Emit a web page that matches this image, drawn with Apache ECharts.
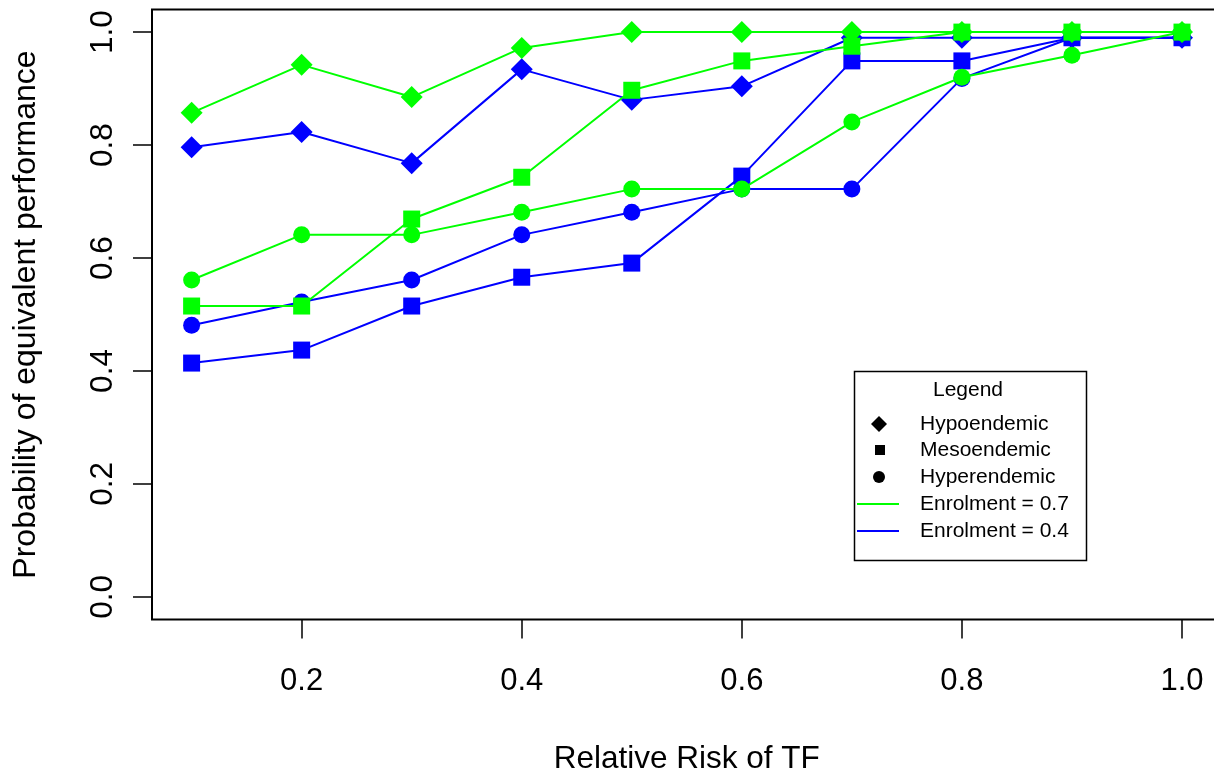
<!DOCTYPE html>
<html>
<head>
<meta charset="utf-8">
<script src="https://cdn.jsdelivr.net/npm/echarts@6/dist/echarts.min.js"></script>
<style>html,body{margin:0;padding:0;background:#fff}#c{width:1214px;height:773px}</style>
</head>
<body>
<div id="c"></div>
<script>
var relativeRisk = [0.1, 0.2, 0.3, 0.4, 0.5, 0.6, 0.7, 0.8, 0.9, 1.0];
var xTicks = [0.2, 0.4, 0.6, 0.8, 1.0];
var yTicks = [0.0, 0.2, 0.4, 0.6, 0.8, 1.0];

var hypo07  = [0.857, 0.942, 0.885, 0.972, 1.0, 1.0, 1.0, 1.0, 1.0, 1.0];
var meso07  = [0.515, 0.515, 0.669, 0.743, 0.897, 0.949, 0.975, 1.0, 1.0, 1.0];
var hyper07 = [0.561, 0.641, 0.641, 0.681, 0.722, 0.722, 0.841, 0.920, 0.959, 1.0];

var hypo04  = [0.796, 0.823, 0.768, 0.934, 0.880, 0.904, 0.990, 0.990, 0.990, 0.990];
var meso04  = [0.414, 0.437, 0.515, 0.566, 0.591, 0.745, 0.949, 0.949, 0.990, 0.990];
var hyper04 = [0.481, 0.522, 0.561, 0.641, 0.681, 0.722, 0.722, 0.918, 0.990, 0.990];

var GREEN = '#00FF00', BLUE = '#0000FF';
var FONT = '"Liberation Sans", Arial, Helvetica, sans-serif';

function pairs(vals) { return relativeRisk.map(function (x, i) { return [x, vals[i]]; }); }
function mk(name, vals, color, symbol, size, z) {
  return {
    name: name, type: 'line', data: pairs(vals), symbol: symbol, symbolSize: size,
    showAllSymbol: true, z: z,
    lineStyle: { color: color, width: 2 }, itemStyle: { color: color },
    emphasis: { disabled: true }, animation: false
  };
}

var series = [
  mk('Hypo 0.4', hypo04, BLUE, 'diamond', 22, 2),
  mk('Meso 0.4', meso04, BLUE, 'rect', 17, 2),
  mk('Hyper 0.4', hyper04, BLUE, 'circle', 17, 2),
  mk('Hypo 0.7', hypo07, GREEN, 'diamond', 22, 3),
  mk('Meso 0.7', meso07, GREEN, 'rect', 17, 3),
  mk('Hyper 0.7', hyper07, GREEN, 'circle', 17, 3),
  { name: 'Hypoendemic', type: 'line', data: [], itemStyle: { color: '#000' }, symbol: 'diamond' },
  { name: 'Mesoendemic', type: 'line', data: [], itemStyle: { color: '#000' }, symbol: 'rect' },
  { name: 'Hyperendemic', type: 'line', data: [], itemStyle: { color: '#000' }, symbol: 'circle' },
  { name: 'Enrolment = 0.7', type: 'line', data: [], itemStyle: { color: GREEN }, lineStyle: { color: GREEN } },
  { name: 'Enrolment = 0.4', type: 'line', data: [], itemStyle: { color: BLUE }, lineStyle: { color: BLUE } }
];

function lg(name, icon, left, top, w, h, padLeft) {
  return {
    orient: 'vertical', left: left, top: top, padding: 0, selectedMode: false,
    itemWidth: w, itemHeight: h,
    textStyle: { fontFamily: FONT, fontSize: 21, lineHeight: 21, color: '#000', padding: [0, 0, 0, padLeft] },
    data: [{ name: name, icon: icon }]
  };
}
var LINE_ICON = 'path://M0,0H42V2H0Z';

var chart = echarts.init(document.getElementById('c'), null, { renderer: 'canvas' });
chart.setOption({
  animation: false,
  backgroundColor: '#fff',
  grid: { left: 152, top: 9.5, width: 1069.6, height: 610, containLabel: false, outerBoundsMode: 'none',
    show: true, borderColor: '#000', borderWidth: 2, backgroundColor: 'transparent' },
  xAxis: {
    type: 'value', min: 0.064, max: 1.036,
    name: 'Relative Risk of TF', nameLocation: 'middle', nameGap: 124,
    nameTextStyle: { fontFamily: FONT, fontSize: 31.5, color: '#000' },
    axisLine: { show: false, onZero: false },
    axisTick: { show: true, length: 19, inside: false, customValues: xTicks, lineStyle: { color: '#000', width: 1.5 } },
    axisLabel: { customValues: xTicks, margin: 46, fontFamily: FONT, fontSize: 31, color: '#000',
      formatter: function (v) { return v.toFixed(1); } },
    splitLine: { show: false }
  },
  yAxis: {
    type: 'value', min: -0.04, max: 1.04,
    name: 'Probability of equivalent performance', nameLocation: 'middle', nameGap: 110, nameRotate: 90,
    nameTextStyle: { fontFamily: FONT, fontSize: 32, color: '#000' },
    axisLine: { show: false, onZero: false },
    axisTick: { show: true, length: 19, inside: false, customValues: yTicks, lineStyle: { color: '#000', width: 1.5 } },
    axisLabel: { customValues: yTicks, margin: 33, rotate: 90, fontFamily: FONT, fontSize: 31.5, color: '#000',
      formatter: function (v) { return v.toFixed(1); } },
    splitLine: { show: false }
  },
  legend: [
    lg('Hypoendemic', 'diamond', 871, 413.5, 16, 16, 28),
    lg('Mesoendemic', 'path://M0,0H10V10H0Z', 875, 439.5, 10, 10, 30),
    lg('Hyperendemic', 'circle', 873, 466.5, 12, 12, 30),
    lg('Enrolment = 0.7', LINE_ICON, 857, 493.5, 42, 2, 16),
    lg('Enrolment = 0.4', LINE_ICON, 857, 520.5, 42, 2, 16)
  ],
  graphic: [
    { type: 'rect', left: 852, top: 369, shape: { width: 232, height: 189 }, style: { fill: 'none', stroke: '#000', lineWidth: 1.5 }, z: 10 },
    { type: 'text', x: 968, y: 390, style: { text: 'Legend', font: '21px ' + FONT, fill: '#000', align: 'center', verticalAlign: 'middle' }, z: 10 }
  ],
  series: series
});
</script>
</body>
</html>
